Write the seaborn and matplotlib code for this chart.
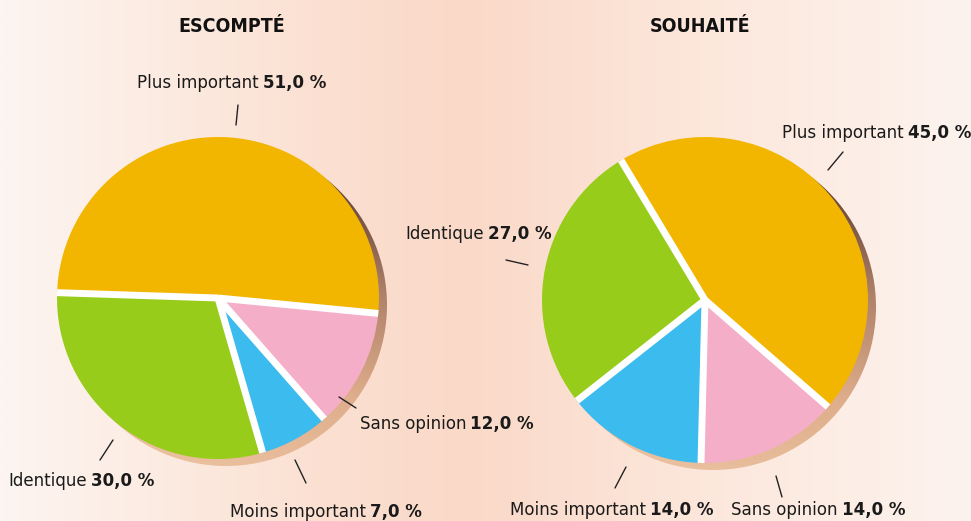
import numpy as np
import matplotlib
matplotlib.use("Agg")
import matplotlib.pyplot as plt
from matplotlib.patches import Circle
from matplotlib.colors import LinearSegmentedColormap
import seaborn as sns

# Survey answers (share of respondents, %)
categories = ["Plus important", "Identique", "Moins important", "Sans opinion"]
escompte = [51.0, 30.0, 7.0, 12.0]
souhaite = [45.0, 27.0, 14.0, 14.0]
titles = ["ESCOMPTÉ", "SOUHAITÉ"]
slice_colors = ["#F2B600", "#97CC1B", "#3BBBEE", "#F5AEC7"]

sns.set_theme(style="white")
plt.rcParams["font.family"] = ["DejaVu Sans"]
plt.rcParams["font.stretch"] = "condensed"
palette = sns.color_palette(slice_colors)

W, H = 971, 521
fig = plt.figure(figsize=(W / 100, H / 100), dpi=100)
ax = fig.add_axes([0, 0, 1, 1])

# soft horizontal peach background
bg_stops = [0.0, 0.15, 0.35, 0.48, 0.70, 1.0]
bg_cols = ["#fdf5f1", "#fcece3", "#fbdfd0", "#fad9c8", "#fce6da", "#fdf3ee"]
bg_cmap = LinearSegmentedColormap.from_list("bg", list(zip(bg_stops, bg_cols)))
ax.imshow(np.linspace(0, 1, 512)[None, :], cmap=bg_cmap, extent=[0, W, 0, H],
          aspect="auto", zorder=0)

shadow_cmap = LinearSegmentedColormap.from_list(
    "shadow", [(0.0, "#ecc3a2"), (0.35, "#dfae8c"), (0.65, "#b0826a"), (1.0, "#4a2c20")])

pies = [
    dict(values=escompte, center=(218, H - 298), radius=161, start=-5.5, title_x=232),
    dict(values=souhaite, center=(705, H - 300), radius=163, start=-41.0, title_x=700),
]

for p, title in zip(pies, titles):
    cx, cy = p["center"]
    r = p["radius"]
    # brown drop shadow, offset to the lower right
    sx, sy = cx + 8, cy - 7
    disc = Circle((sx, sy), r, transform=ax.transData)
    yy = np.linspace(0, 1, 256)[:, None]
    xx = np.linspace(0, 1, 256)[None, :]
    grad = np.clip(0.85 * yy + 0.25 * xx - 0.05, 0, 1)
    im = ax.imshow(grad, cmap=shadow_cmap, origin="lower",
                   extent=[sx - r, sx + r, sy - r, sy + r], aspect="auto", zorder=1)
    im.set_clip_path(disc)

    wedges, _ = ax.pie(p["values"], colors=palette, startangle=p["start"],
                       counterclock=True, center=(cx, cy), radius=r,
                       wedgeprops=dict(linewidth=0))
    for w in wedges:
        w.set_zorder(2)
    # white separators between slices
    bounds = p["start"] + np.cumsum([0] + list(p["values"]))[:-1] * 3.6
    for a in bounds:
        t = np.deg2rad(a)
        ax.plot([cx, cx + r * np.cos(t)], [cy, cy + r * np.sin(t)],
                color="white", lw=5, solid_capstyle="butt", zorder=3)
    ax.text(p["title_x"], H - 27, title, ha="center", va="center",
            fontsize=14, fontweight="bold", color="#111111")

ax.set_xlim(0, W)
ax.set_ylim(0, H)
ax.set_aspect("auto")
ax.axis("off")

renderer = fig.canvas.get_renderer()
FS = 13.3


def fmt(v):
    return f"{v:.1f}".replace(".", ",") + " %"


def label(x, y, name, value):
    """Name in regular weight followed by the value in bold; x is the left edge."""
    t1 = ax.text(x, H - y, name, ha="left", va="center", fontsize=FS, color="#1a1a1a")
    bb = t1.get_window_extent(renderer)
    ax.text(bb.x1 + 4, H - y, fmt(value), ha="left", va="center", fontsize=FS,
            fontweight="bold", color="#1a1a1a")


def leader(p0, p1):
    ax.plot([p0[0], p1[0]], [H - p0[1], H - p1[1]], color="#222222", lw=1, zorder=4)


# left pie annotations
label(137, 83, categories[0], escompte[0]); leader((238, 105), (236, 125))
label(8, 481, categories[1], escompte[1]); leader((100, 460), (113, 440))
label(230, 512, categories[2], escompte[2]); leader((295, 460), (306, 483))
label(360, 424, categories[3], escompte[3]); leader((339, 397), (356, 408))
# right pie annotations
label(782, 133, categories[0], souhaite[0]); leader((828, 170), (843, 152))
label(405, 234, categories[1], souhaite[1]); leader((506, 260), (528, 265))
label(510, 510, categories[2], souhaite[2]); leader((615, 488), (626, 467))
label(731, 510, categories[3], souhaite[3]); leader((776, 476), (782, 497))

fig.savefig("out.png", dpi=100)
